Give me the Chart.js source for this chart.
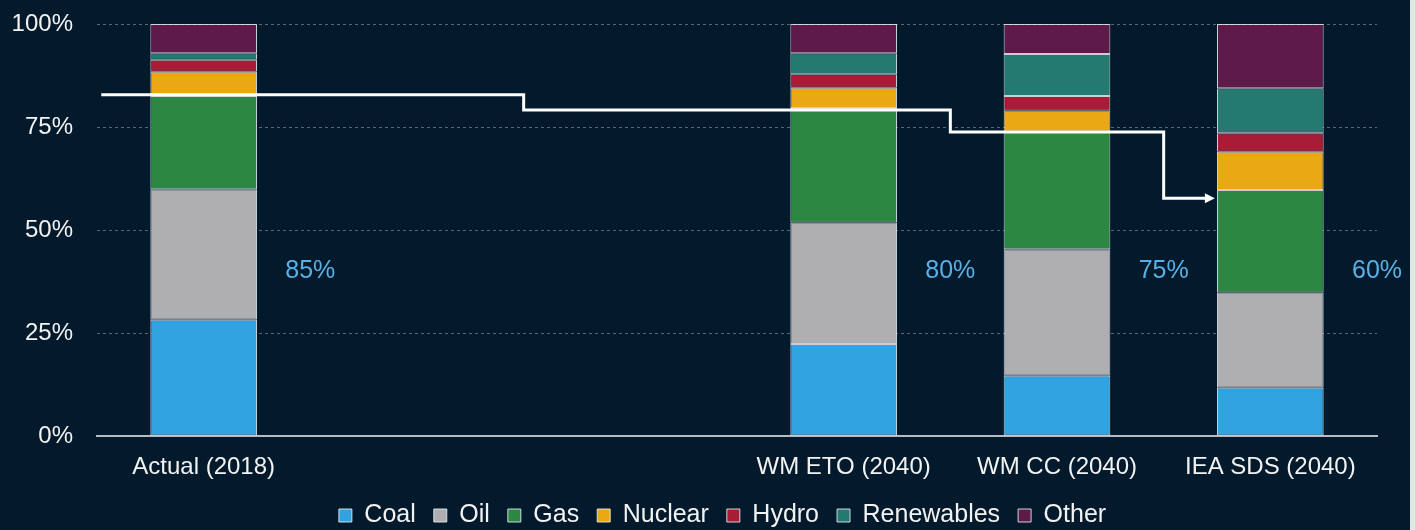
<!DOCTYPE html>
<html>
<head>
<meta charset="utf-8">
<script src="https://cdn.jsdelivr.net/npm/chart.js@4/dist/chart.umd.min.js"></script>
<style>
  body { margin: 0; background: #dfe9df; }
  #wrap { width: 1410px; height: 530px; background: #031a2d; position: relative; }
</style>
</head>
<body>
<div id="wrap"><canvas id="myChart"></canvas></div>
<script>
// categories (two empty slots keep the gap after 2018)
var categories = ['Actual (2018)', '', '', 'WM ETO (2040)', 'WM CC (2040)', 'IEA SDS (2040)'];

// share of primary energy, %
var coal       = [28.2, null, null, 22.3, 14.6, 11.7];
var oil        = [31.7, null, null, 29.5, 30.7, 23.1];
var gas        = [22.6, null, null, 27.8, 28.6, 24.9];
var nuclear    = [5.9,  null, null, 4.9,  5.1,  9.3];
var hydro      = [2.9,  null, null, 3.3,  3.5,  4.5];
var renewables = [1.6,  null, null, 5.1,  10.2, 10.9];
var other      = [7.1,  null, null, 7.1,  7.3,  15.6];

// fossil share step line + labels
var fossilLevels = [82.8, 79.1, 73.8, 57.7];
var fossilLabels = ['85%', '80%', '75%', '60%'];
var fossilCats   = [0, 3, 4, 5];
var stepX        = [-0.48, 1.5, 3.5, 4.5, 4.74];

var yTicks = [0, 25, 50, 75, 100];

var font = "'Liberation Sans', Arial, sans-serif";

function ds(label, data, color) {
  return {
    label: label,
    data: data,
    backgroundColor: color,
    borderColor: 'rgba(235,240,245,0.85)',
    borderWidth: 1,
    borderSkipped: false,
    categoryPercentage: 1,
    barPercentage: 0.5
  };
}

// fixed legend block height, and nudge it right like the original
var legendHeight = {
  id: 'legendHeight',
  beforeLayout: function(chart) {
    var lg = chart.legend;
    if (!lg || lg._patched) return;
    var fit = lg.fit, draw = lg.draw;
    lg.fit = function() {
      fit.call(this);
      this.height = 45;
    };
    lg.draw = function() {
      this.ctx.save();
      this.ctx.translate(28, 0);
      draw.call(this);
      this.ctx.restore();
    };
    lg._patched = true;
  }
};

var fossilPlugin = {
  id: 'fossil',
  afterDatasetsDraw: function(chart) {
    var ctx = chart.ctx;
    var x = chart.scales.x, y = chart.scales.y;
    var x0 = x.getPixelForValue(0), step = x.getPixelForValue(1) - x0;
    function px(v) { return x0 + v * step; }

    ctx.save();
    ctx.strokeStyle = '#ffffff';
    ctx.lineWidth = 3;
    ctx.beginPath();
    ctx.moveTo(px(stepX[0]), y.getPixelForValue(fossilLevels[0]));
    for (var i = 0; i < fossilLevels.length; i++) {
      var yy = y.getPixelForValue(fossilLevels[i]);
      if (i > 0) ctx.lineTo(px(stepX[i]), yy);
      ctx.lineTo(px(stepX[i + 1]) - (i === fossilLevels.length - 1 ? 8 : 0), yy);
    }
    ctx.stroke();

    // arrow head
    var ex = px(stepX[stepX.length - 1]);
    var ey = y.getPixelForValue(fossilLevels[fossilLevels.length - 1]);
    ctx.fillStyle = '#ffffff';
    ctx.beginPath();
    ctx.moveTo(ex, ey);
    ctx.lineTo(ex - 10, ey - 5);
    ctx.lineTo(ex - 10, ey + 5);
    ctx.closePath();
    ctx.fill();

    // percentage labels
    ctx.fillStyle = '#5ab0e4';
    ctx.font = '25px ' + font;
    ctx.textAlign = 'center';
    ctx.textBaseline = 'middle';
    for (var j = 0; j < fossilLabels.length; j++) {
      ctx.fillText(fossilLabels[j], px(fossilCats[j] + 0.5), y.getPixelForValue(40));
    }
    ctx.restore();
  }
};

document.addEventListener("DOMContentLoaded", function(event) {
  var ctx = document.getElementById('myChart').getContext('2d');

  var myChart = new Chart(ctx, {
    type: 'bar',
    data: {
      labels: categories,
      datasets: [
        ds('Coal', coal, '#30a3e0'),
        ds('Oil', oil, '#afafb2'),
        ds('Gas', gas, '#2c8742'),
        ds('Nuclear', nuclear, '#eaa814'),
        ds('Hydro', hydro, '#a81c36'),
        ds('Renewables', renewables, '#247a70'),
        ds('Other', other, '#5e1b4a')
      ]
    },
    options: {
      responsive: true,
      maintainAspectRatio: false,
      animation: false,
      layout: { padding: { left: 12, right: 33, top: 24, bottom: 0 } },
      plugins: {
        tooltip: { enabled: false },
        legend: {
          position: 'bottom',
          labels: {
            color: '#f2f2f2',
            font: { family: font, size: 25 },
            boxWidth: 13,
            boxHeight: 13,
            padding: 18
          }
        }
      },
      scales: {
        x: {
          stacked: true,
          afterFit: function(s) { s.height = 49; },
          grid: { display: false },
          border: { display: true, color: '#b8bcc2', width: 2 },
          ticks: {
            color: '#f2f2f2',
            font: { family: font, size: 24 },
            padding: 9,
            maxRotation: 0,
            autoSkip: false
          }
        },
        y: {
          stacked: true,
          min: 0,
          max: 100,
          afterFit: function(s) {
            s.width = 85;
            s.paddingTop = 0;
            s.paddingBottom = 0;
          },
          afterBuildTicks: function(s) {
            s.ticks = yTicks.map(function(v) { return { value: v }; });
          },
          grid: {
            color: function(c) { return c.tick && c.tick.value === 0 ? 'rgba(0,0,0,0)' : '#5a6876'; },
            lineWidth: 1,
            drawTicks: false
          },
          border: { display: false, dash: [3, 3] },
          ticks: {
            color: '#f2f2f2',
            font: { family: font, size: 24 },
            padding: 24,
            callback: function(value) { return value + '%'; }
          }
        }
      }
    },
    plugins: [fossilPlugin, legendHeight]
  });
});
</script>
</body>
</html>
